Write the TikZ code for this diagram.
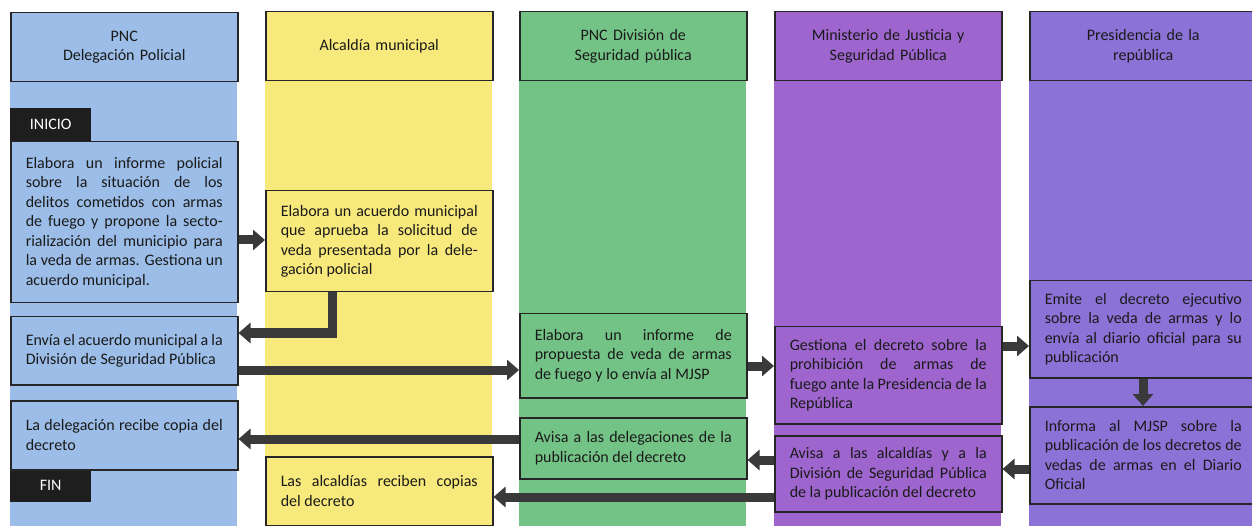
\documentclass[tikz,border=0pt]{standalone}
\usepackage{fontspec}
\setmainfont{Carlito}
\usetikzlibrary{arrows.meta}
\definecolor{cBlue}{HTML}{9BBDE7}
\definecolor{cYellow}{HTML}{F7E97B}
\definecolor{cGreen}{HTML}{74C386}
\definecolor{cPurple}{HTML}{9E65CE}
\definecolor{cViolet}{HTML}{8B72D7}
\definecolor{bord}{HTML}{262626}
\definecolor{arrc}{HTML}{3A3A3A}
\definecolor{tagc}{HTML}{1E1E1E}
\definecolor{txt}{HTML}{1A1A1A}
\begin{document}
\begin{tikzpicture}[x=1pt,y=-1pt,
  every node/.style={font=\fontsize{16}{19.5}\selectfont, text=txt},
  head/.style={draw=bord, line width=1.5pt, minimum width=227pt, minimum height=69pt,
    text width=210pt, align=center, anchor=north west, inner sep=0pt},
  box/.style={draw=bord, line width=1.5pt, text width=197pt, inner xsep=15pt, inner ysep=0pt,
    align=justify, anchor=north west},
  tag/.style={fill=tagc, text=white, minimum width=81pt, minimum height=33pt, anchor=north west, inner sep=0pt},
  arr/.style={draw=arrc, line width=9pt, -{Triangle[width=20pt,length=12pt]}}]
\useasboundingbox (0,0) rectangle (1252,526);
\fill[white] (0,0) rectangle (1252,526);
% lanes
\fill[cBlue] (10,12) rectangle (237,530);
\fill[cYellow] (265,11) rectangle (492,530);
\fill[cGreen] (519,11) rectangle (746,530);
\fill[cPurple] (774,11) rectangle (1001,530);
\fill[cViolet] (1029,11) rectangle (1260,530);
% headers
\node[head, fill=cBlue] (h1) at (10,12) {PNC\\Delegación Policial};
\node[head, fill=cYellow] (h2) at (265,11) {Alcaldía municipal};
\node[head, fill=cGreen] (h3) at (519,11) {PNC División de\\Seguridad pública};
\node[head, fill=cPurple] (h4) at (774,11) {Ministerio de Justicia y\\Seguridad Pública};
\node[head, fill=cViolet] (h5) at (1029,11) {Presidencia de la\\república};
% tags
\node[tag] (ini) at (10,108) {INICIO};
\node[tag] (fin) at (10,469) {FIN};
% boxes
\node[box, fill=cBlue, minimum height=161pt] (b1) at (10,141) {Elabora un informe policial\linebreak sobre la situación de los\linebreak delitos cometidos con armas\linebreak de fuego y propone la secto-\linebreak rialización del municipio para\linebreak la veda de armas. Gestiona un\linebreak acuerdo municipal.};
\node[box, fill=cYellow, minimum height=101pt] (b2) at (265,190) {Elabora un acuerdo municipal\linebreak que aprueba la solicitud de\linebreak veda presentada por la dele-\linebreak gación policial};
\node[box, fill=cBlue, minimum height=68pt] (b3) at (10,316) {Envía el acuerdo municipal a la\linebreak División de Seguridad Pública};
\node[box, fill=cBlue, minimum height=69pt] (b4) at (10,400) {La delegación recibe copia del\linebreak decreto};
\node[box, fill=cYellow, minimum height=69pt] (b5) at (265,456) {Las alcaldías reciben copias\linebreak del decreto};
\node[box, fill=cGreen, minimum height=84pt] (b6) at (519,313) {Elabora un informe de\linebreak propuesta de veda de armas\linebreak de fuego y lo envía al MJSP};
\node[box, fill=cGreen, minimum height=61pt] (b7) at (519,417) {Avisa a las delegaciones de la\linebreak publicación del decreto};
\node[box, fill=cPurple, minimum height=97pt] (b8) at (774,326) {Gestiona el decreto sobre la\linebreak prohibición de armas de\linebreak fuego ante la Presidencia de la\linebreak República};
\node[box, fill=cPurple, minimum height=76pt] (b9) at (774,435) {Avisa a las alcaldías y a la\linebreak División de Seguridad Pública\linebreak de la publicación del decreto};
\node[box, fill=cViolet, minimum height=97pt] (b10) at (1029,280) {Emite el decreto ejecutivo\linebreak sobre la veda de armas y lo\linebreak envía al diario oficial para su\linebreak publicación};
\node[box, fill=cViolet, minimum height=97pt] (b11) at (1029,406) {Informa al MJSP sobre la\linebreak publicación de los decretos de\linebreak vedas de armas en el Diario\linebreak Oficial};
% connectors
\draw[arr] (b1.east |- 0,240) -- (b2.west |- 0,240);
\draw[arr] (b2.south -| 332,0) -- (332,333) -- (b3.east |- 0,333);
\draw[arr] (b3.east |- 0,370) -- (b6.west |- 0,370);
\draw[arr] (b6.east |- 0,366) -- (b8.west |- 0,366);
\draw[arr] (b8.east |- 0,346) -- (b10.west |- 0,346);
\draw[arr] (b10.south -| 1143,0) -- (b11.north -| 1143,0);
\draw[arr] (b11.west |- 0,469) -- (b9.east |- 0,469);
\draw[arr] (b9.west |- 0,460) -- (b7.east |- 0,460);
\draw[arr] (b7.west |- 0,439) -- (b4.east |- 0,439);
\draw[arr] (b9.west |- 0,497) -- (b5.east |- 0,497);
\end{tikzpicture}
\end{document}
